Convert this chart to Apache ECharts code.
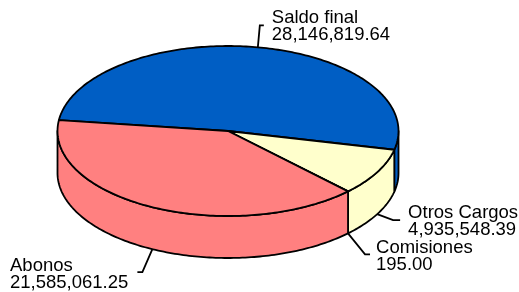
<!DOCTYPE html>
<html>
<head>
<meta charset="utf-8">
<script src="https://cdn.jsdelivr.net/npm/echarts@6/dist/echarts.min.js"></script>
<style>
html,body{margin:0;padding:0;background:#fff;}
#chart{width:519px;height:292px;}
</style>
</head>
<body>
<div id="chart"></div>
<script>
// ---- data ----
const categories = ['Saldo final', 'Otros Cargos', 'Comisiones', 'Abonos'];
const values = [28146819.64, 4935548.39, 195.00, 21585061.25];
const valueLabels = ['28,146,819.64', '4,935,548.39', '195.00', '21,585,061.25'];
const colors = ['#005EC4', '#FFFFCC', '#FFFFCC', '#FF8080'];

// ---- layout (pixels / degrees), not data ----
const layout = { cx: 228, cy: 131, rx: 170.5, ry: 85, depth: 42, startDeg: 187.4 };
// leader elbow / end offsets relative to anchor, and text position
const labelLayout = [
  { elbow: [2, -22], end: [6, -22], textDx: 8, textLeft: null, textDy: 1 },
  { elbow: [16, 6], end: [23, 6], textDx: 8, textLeft: null, textDy: 1 },
  { elbow: [17, 21], end: [22, 21], textDx: 6, textLeft: null, textDy: 2 },
  { elbow: [-10, 23], end: [-15, 23], textDx: 0, textLeft: 10, textDy: 2 }
];

const total = values.reduce((a, b) => a + b, 0);

function pt(deg, yOff) {
  const r = deg * Math.PI / 180;
  return [layout.cx + layout.rx * Math.cos(r), layout.cy + layout.ry * Math.sin(r) + (yOff || 0)];
}
function arc(a0, a1, yOff) {
  const pts = [];
  const n = Math.max(1, Math.ceil(Math.abs(a1 - a0)));
  for (let k = 0; k <= n; k++) pts.push(pt(a0 + (a1 - a0) * k / n, yOff));
  return pts;
}

function renderItem(params, api) {
  const i = params.dataIndex;
  let cum = 0;
  for (let j = 0; j < i; j++) cum += values[j];
  const v = api.value(0);
  const a0 = layout.startDeg + cum / total * 360;
  const a1 = a0 + v / total * 360;
  const children = [];
  const line = { stroke: '#000', lineWidth: 1.8 };

  // visible outer walls (front half)
  [[0, 180], [360, 540]].forEach(w => {
    const s = Math.max(a0, w[0]), e = Math.min(a1, w[1]);
    if (e > s + 0.01) {
      const pts = arc(s, e, 0).concat(arc(e, s, layout.depth));
      children.push({ type: 'polygon', shape: { points: pts },
        style: Object.assign({ fill: colors[i], lineJoin: 'round' }, line) });
    }
  });

  // top face
  const topPts = [[layout.cx, layout.cy]].concat(arc(a0, a1, 0));
  children.push({ type: 'polygon', shape: { points: topPts },
    style: Object.assign({ fill: colors[i], lineJoin: 'round' }, line) });

  // label with leader
  const mid = (a0 + a1) / 2;
  const mm = ((mid % 360) + 360) % 360;
  const anchor = pt(mid, (mm > 0 && mm < 180) ? layout.depth : 0);
  const L = labelLayout[i];
  const elbow = [anchor[0] + L.elbow[0], anchor[1] + L.elbow[1]];
  const end = [anchor[0] + L.end[0], anchor[1] + L.end[1]];
  children.push({ type: 'polyline', shape: { points: [anchor, elbow, end] },
    style: { stroke: '#000', lineWidth: 1.8, fill: null } });
  children.push({ type: 'text',
    style: {
      text: categories[i] + '\n' + valueLabels[i],
      x: L.textLeft != null ? L.textLeft : end[0] + L.textDx,
      y: end[1] + L.textDy,
      align: 'left', verticalAlign: 'middle',
      fill: '#000', fontSize: 18.5, lineHeight: 17,
      fontFamily: 'Liberation Sans, Arial, sans-serif'
    } });

  return { type: 'group', children };
}

const chart = echarts.init(document.getElementById('chart'), null, { renderer: 'canvas' });
chart.setOption({
  animation: false,
  series: [{
    type: 'custom',
    coordinateSystem: 'none',
    renderItem: renderItem,
    data: values.map((v, i) => ({ name: categories[i], value: [v] }))
  }]
});
</script>
</body>
</html>
